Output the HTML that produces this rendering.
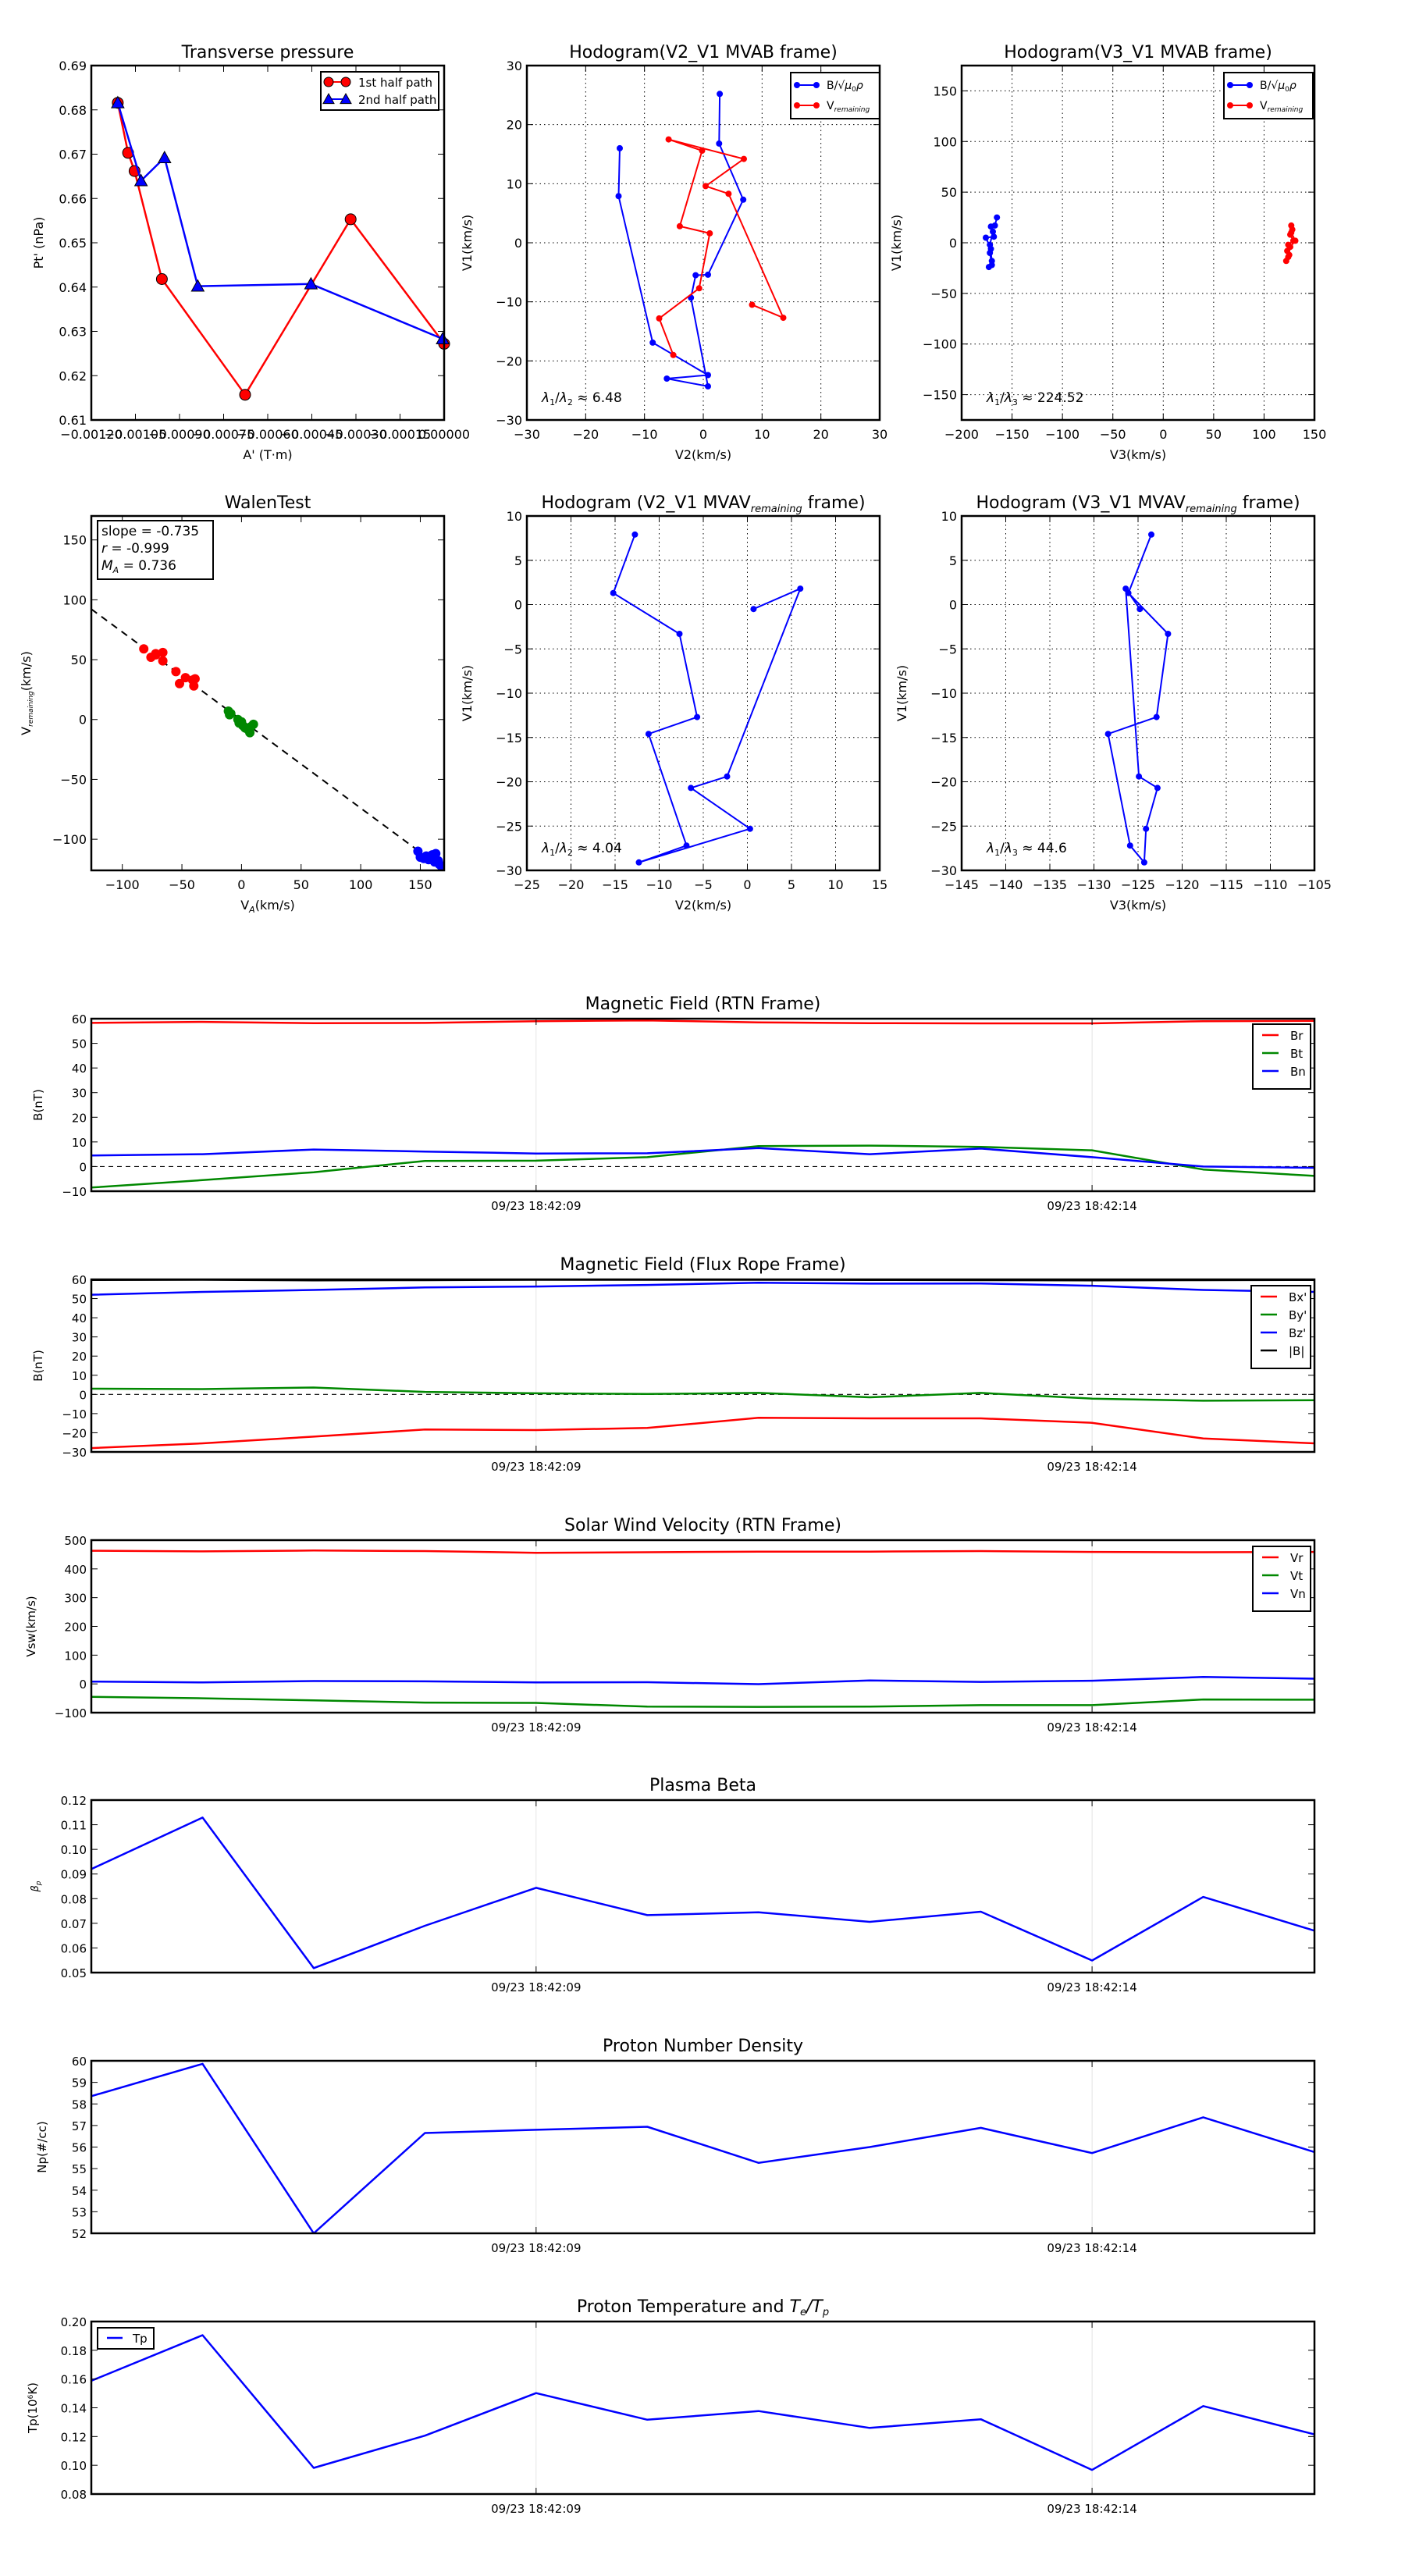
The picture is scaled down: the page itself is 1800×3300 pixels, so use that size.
<!DOCTYPE html>
<html><head><meta charset="utf-8">
<style>
html,body{margin:0;padding:0;background:#fff;}
svg{display:block;font-family:"DejaVu Sans","Liberation Sans",sans-serif;}
</style></head>
<body>
<svg id="s" width="1800" height="3300" viewBox="0 0 1800 3300" xmlns="http://www.w3.org/2000/svg"></svg>
<script>
var out=[];
function A(x0,y0,w,h,xl,yl){return {x0:x0,y0:y0,w:w,h:h,X:function(v){return x0+(v-xl[0])/(xl[1]-xl[0])*w;},Y:function(v){return y0+h-(v-yl[0])/(yl[1]-yl[0])*h;}};}
function T(x,y,s,sz,anc,extra){out.push('<text x="'+x+'" y="'+y+'" font-size="'+sz+'" text-anchor="'+(anc||'middle')+'" '+(extra||'')+'>'+s+'</text>');}
function L(x1,y1,x2,y2,c,w,extra){out.push('<line x1="'+x1+'" y1="'+y1+'" x2="'+x2+'" y2="'+y2+'" stroke="'+c+'" stroke-width="'+w+'" '+(extra||'')+'/>');}
function ticksY(a,vals,fmt,fs){vals.forEach(function(v){var y=a.Y(v);L(a.x0,y,a.x0+8,y,'#000',1);L(a.x0+a.w-8,y,a.x0+a.w,y,'#000',1);T(a.x0-6,y+6,fmt(v),fs||16,'end');});}
function ticksX(a,vals,fmt,fs,lab){vals.forEach(function(v,i){var x=a.X(v);L(x,a.y0,x,a.y0+8,'#000',1);L(x,a.y0+a.h-8,x,a.y0+a.h,'#000',1);T(x,a.y0+a.h+24,lab?lab[i]:fmt(v),fs||16,'middle');});}
function grid(a,xv,yv){xv.forEach(function(v){var x=a.X(v);L(x,a.y0,x,a.y0+a.h,'#000',1,'stroke-dasharray="1.5,4"');});yv.forEach(function(v){var y=a.Y(v);L(a.x0,y,a.x0+a.w,y,'#000',1,'stroke-dasharray="1.5,4"');});}
function poly(a,p,c,w){out.push('<polyline fill="none" stroke="'+c+'" stroke-width="'+w+'" stroke-linejoin="round" points="'+p.map(function(q){return a.X(q[0]).toFixed(1)+','+a.Y(q[1]).toFixed(1);}).join(' ')+'"/>');}
function dots(a,p,c,r,stroke){p.forEach(function(q){out.push('<circle cx="'+a.X(q[0]).toFixed(1)+'" cy="'+a.Y(q[1]).toFixed(1)+'" r="'+r+'" fill="'+c+'" '+(stroke?'stroke="#000" stroke-width="1"':'')+'/>');});}
function tris(a,p,c,r){p.forEach(function(q){var x=a.X(q[0]),y=a.Y(q[1]);out.push('<polygon points="'+x+','+(y-r)+' '+(x-r)+','+(y+r*0.8)+' '+(x+r)+','+(y+r*0.8)+'" fill="'+c+'" stroke="#000" stroke-width="1"/>');});}
function frame(a){out.push('<rect x="'+a.x0+'" y="'+a.y0+'" width="'+a.w+'" height="'+a.h+'" fill="none" stroke="#000" stroke-width="2.5"/>');}
function ylab(a,s,off,fs){var x=a.x0-off,y=a.y0+a.h/2;T(x,y,s,fs||16,'middle','transform="rotate(-90 '+x+' '+y+')"');}
function rng(a,b,s){var r=[];for(var v=a;v<=b+1e-9;v+=s)r.push(Math.round(v*1e6)/1e6);return r;}
function clip(a,id){out.push('<clipPath id="'+id+'"><rect x="'+a.x0+'" y="'+a.y0+'" width="'+a.w+'" height="'+a.h+'"/></clipPath>');}

var c1=117,c2=675,c3=1232,W=452,r1=84,r2=661,H=454;

/* Transverse pressure */
var a=A(c1,r1,W,H,[-0.0012,0],[0.61,0.69]);
T(c1+W/2,74,'Transverse pressure',22);
var red=[[-0.00111,0.6816],[-0.001075,0.6703],[-0.001053,0.6662],[-0.00096,0.6418],[-0.000677,0.6157],[-0.000318,0.6553],[0,0.6272]];
var blu=[[-0.00111,0.6816],[-0.001031,0.664],[-0.000951,0.6692],[-0.000838,0.6402],[-0.000453,0.6407],[-0.000005,0.6283]];
poly(a,red,'#f00',2.5);dots(a,red,'#f00',7,1);poly(a,blu,'#00f',2.5);tris(a,blu,'#00f',8);
ticksY(a,rng(0.61,0.69,0.01),function(v){return v.toFixed(2)});
ticksX(a,rng(-0.0012,0,0.00015),function(v){return v==0?'0.00000':'\u2212'+Math.abs(v).toFixed(5)});
T(c1+W/2,a.y0+H+50,"A' (T\u00b7m)",16);ylab(a,"Pt' (nPa)",62);
out.push('<rect x="411" y="92" width="151" height="49" fill="#fff" stroke="#000" stroke-width="2"/>');
var g0=A(0,0,1,1,[0,1],[1,0]);
L(421,105,443,105,'#f00',2);dots(g0,[[421,105],[443,105]],'#f00',6,1);T(459,111,'1st half path',15,'start');
L(421,127,443,127,'#00f',2);tris(g0,[[421,127],[443,127]],'#00f',7);T(459,133,'2nd half path',15,'start');
frame(a);

/* Hodogram 1 */
a=A(c2,r1,W,H,[-30,30],[-30,30]);
T(c2+W/2,74,'Hodogram(V2_V1 MVAB frame)',22);
grid(a,rng(-20,20,10),rng(-20,20,10));
var hb=[[-14.2,16],[-14.4,7.9],[-8.6,-16.9],[0.8,-22.4],[-6.2,-23],[0.8,-24.3],[-2.1,-9.3],[-1.3,-5.5],[0.8,-5.4],[6.8,7.3],[2.7,16.8],[2.8,25.2]];
var hr=[[-5.1,-19],[-7.5,-12.8],[-0.7,-7.7],[1.1,1.6],[-4,2.8],[-0.2,15.6],[-5.9,17.5],[6.9,14.2],[0.4,9.6],[4.3,8.3],[13.6,-12.7],[8.3,-10.5]];
poly(a,hb,'#00f',2);dots(a,hb,'#00f',4);poly(a,hr,'#f00',2);dots(a,hr,'#f00',4);
ticksY(a,rng(-30,30,10),function(v){return v<0?'\u2212'+(-v):''+v});
ticksX(a,rng(-30,30,10),function(v){return v<0?'\u2212'+(-v):''+v});
T(c2+W/2,a.y0+H+50,'V2(km/s)',16);ylab(a,'V1(km/s)',71);
T(c2+19,515,'<tspan font-style="italic">λ</tspan><tspan font-size="11" dy="4">1</tspan><tspan dy="-4">/</tspan><tspan font-style="italic">λ</tspan><tspan font-size="11" dy="4">2</tspan><tspan dy="-4"> ≈ 6.48</tspan>',17,'start');
function hleg(x){out.push('<rect x="'+x+'" y="93" width="114" height="59" fill="#fff" stroke="#000" stroke-width="2"/>');
L(x+8,109,x+33,109,'#00f',2);dots(g0,[[x+8,109],[x+33,109]],'#00f',4);T(x+46,114,'B/√<tspan font-style="italic">μ</tspan><tspan font-size="9" dy="3">0</tspan><tspan dy="-3" font-style="italic">ρ</tspan>',14,'start');
L(x+8,135,x+33,135,'#f00',2);dots(g0,[[x+8,135],[x+33,135]],'#f00',4);T(x+46,140,'V<tspan font-size="9" dy="3" font-style="italic">remaining</tspan>',14,'start');}
hleg(1013);frame(a);

/* Hodogram 2 */
a=A(c3,r1,W,H,[-200,150],[-175,175]);
T(c3+W/2,74,'Hodogram(V3_V1 MVAB frame)',22);
grid(a,rng(-150,100,50),rng(-150,150,50));
var gb=[[-165,25],[-167,17],[-171,16],[-168,6],[-176,5],[-171,-6],[-172,-10],[-170,-22],[-173,-24],[-170,-18],[-172,-2],[-169,11]];
var gr=[[127,17],[128,13],[126,8],[129,2],[124,-2],[123,-8],[125,-12],[122,-18],[124,-14],[126,-4],[131,2],[127,10]];
poly(a,gb,'#00f',2);dots(a,gb,'#00f',4);poly(a,gr,'#f00',2);dots(a,gr,'#f00',4);
ticksY(a,rng(-150,150,50),function(v){return v<0?'\u2212'+(-v):''+v});
ticksX(a,rng(-200,150,50),function(v){return v<0?'\u2212'+(-v):''+v});
T(c3+W/2,a.y0+H+50,'V3(km/s)',16);ylab(a,'V1(km/s)',78);
T(c3+32,515,'<tspan font-style="italic">λ</tspan><tspan font-size="11" dy="4">1</tspan><tspan dy="-4">/</tspan><tspan font-style="italic">λ</tspan><tspan font-size="11" dy="4">3</tspan><tspan dy="-4"> ≈ 224.52</tspan>',17,'start');
hleg(1568);frame(a);

/* Walen */
a=A(c1,r2,W,H,[-126,170],[-126,170]);
T(c1+W/2,651,'WalenTest',22);
L(a.X(-126),a.Y(92.2),a.X(170),a.Y(-125.5),'#000',2,'stroke-dasharray="9,7"');
var wr=[[-82,59],[-76,52],[-72,54],[-66,56],[-66,49],[-55,40],[-52,30],[-47,35],[-41,33],[-40,28],[-39,34],[-72,55]];
var wg=[[-11,7],[-10,4],[-9,5],[-3,0],[-2,-3],[0,-2],[1,-5],[3,-7],[5,-8],[7,-11],[8,-6],[10,-4]];
var wb=[[148,-110],[150,-115],[153,-116],[157,-117],[160,-113],[162,-119],[163,-112],[165,-118],[166,-121],[168,-123],[170,-125],[155,-114]];
clip(a,'cw');out.push('<g clip-path="url(#cw)">');dots(a,wr,'#f00',6);dots(a,wg,'#080',6);dots(a,wb,'#00f',6);out.push('</g>');
ticksY(a,rng(-100,150,50),function(v){return v<0?'\u2212'+(-v):''+v});
ticksX(a,rng(-100,150,50),function(v){return v<0?'\u2212'+(-v):''+v});
T(c1+W/2,a.y0+H+50,'V<tspan font-size="11" dy="4" font-style="italic">A</tspan><tspan dy="-4">(km/s)</tspan>',16);
ylab(a,'V<tspan font-size="9" dy="3" font-style="italic">remaining</tspan><tspan dy="-3">(km/s)</tspan>',78);
out.push('<rect x="125" y="667" width="148" height="75" fill="#fff" stroke="#000" stroke-width="2"/>');
T(130,686,'slope = -0.735',17,'start');T(130,708,'<tspan font-style="italic">r</tspan> = -0.999',17,'start');
T(130,730,'<tspan font-style="italic">M</tspan><tspan font-size="11" dy="4" font-style="italic">A</tspan><tspan dy="-4"> = 0.736</tspan>',17,'start');
frame(a);

/* Hodogram 3 */
var v1=[7.9,1.3,-3.3,-12.7,-14.6,-27.2,-29.1,-25.3,-20.7,-19.4,1.8,-0.5];
var v2=[-12.75,-15.2,-7.7,-5.7,-11.2,-6.9,-12.3,0.3,-6.4,-2.3,6.0,0.7];
var v3=[-123.5,-126.1,-121.6,-122.9,-128.4,-125.9,-124.3,-124.1,-122.8,-124.9,-126.4,-124.8];
a=A(c2,r2,W,H,[-25,15],[-30,10]);
T(c2+W/2,651,'Hodogram (V2_V1 MVAV<tspan font-size="13" dy="5" font-style="italic">remaining</tspan><tspan dy="-5"> frame)</tspan>',22);
grid(a,rng(-20,10,5),rng(-25,5,5));
var p=v1.map(function(y,i){return [v2[i],y]});poly(a,p,'#00f',2);dots(a,p,'#00f',4);
ticksY(a,rng(-30,10,5),function(v){return v<0?'\u2212'+(-v):''+v});
ticksX(a,rng(-25,15,5),function(v){return v<0?'\u2212'+(-v):''+v});
T(c2+W/2,a.y0+H+50,'V2(km/s)',16);ylab(a,'V1(km/s)',71);
T(c2+19,1092,'<tspan font-style="italic">λ</tspan><tspan font-size="11" dy="4">1</tspan><tspan dy="-4">/</tspan><tspan font-style="italic">λ</tspan><tspan font-size="11" dy="4">2</tspan><tspan dy="-4"> ≈ 4.04</tspan>',17,'start');
frame(a);

/* Hodogram 4 */
a=A(c3,r2,W,H,[-145,-105],[-30,10]);
T(c3+W/2,651,'Hodogram (V3_V1 MVAV<tspan font-size="13" dy="5" font-style="italic">remaining</tspan><tspan dy="-5"> frame)</tspan>',22);
grid(a,rng(-140,-110,5),rng(-25,5,5));
p=v1.map(function(y,i){return [v3[i],y]});poly(a,p,'#00f',2);dots(a,p,'#00f',4);
ticksY(a,rng(-30,10,5),function(v){return v<0?'\u2212'+(-v):''+v});
ticksX(a,rng(-145,-105,5),function(v){return v<0?'\u2212'+(-v):''+v});
T(c3+W/2,a.y0+H+50,'V3(km/s)',16);ylab(a,'V1(km/s)',71);
T(c3+32,1092,'<tspan font-style="italic">λ</tspan><tspan font-size="11" dy="4">1</tspan><tspan dy="-4">/</tspan><tspan font-style="italic">λ</tspan><tspan font-size="11" dy="4">3</tspan><tspan dy="-4"> ≈ 44.6</tspan>',17,'start');
frame(a);

/* time series */
var BX=117,BW=1567,BH=221;
function tp(top,title,yl,yt,fmt,series,ylabel,zero,legend){
 var a=A(BX,top,BW,BH,[0,11],yl);
 T(BX+BW/2,top-12,title,22);
 L(a.X(4),top,a.X(4),top+BH,'#ddd',0.8);L(a.X(9),top,a.X(9),top+BH,'#ddd',0.8);
 if(zero)L(BX,a.Y(0),BX+BW,a.Y(0),'#000',1.2,'stroke-dasharray="6,5"');
 clip(a,'c'+top);out.push('<g clip-path="url(#c'+top+')">');
 series.forEach(function(s){poly(a,s.d.map(function(v,i){return [i,v]}),s.c,s.w||2.5);});
 out.push('</g>');
 ticksY(a,yt,fmt,15);
 ticksX(a,[4,9],null,15,['09/23 18:42:09','09/23 18:42:14']);
 ylabel();
 if(legend)legend();
 frame(a);return a;}
function nf(v){return v<0?'\u2212'+(-v):''+v}
function leg(x,y,w,items,dy){out.push('<rect x="'+x+'" y="'+y+'" width="'+w+'" height="'+(items.length*dy+14)+'" fill="#fff" stroke="#000" stroke-width="2"/>');
 items.forEach(function(it,i){var yy=y+14+i*dy;L(x+12,yy,x+33,yy,it[1],2.5);T(x+48,yy+6,it[0],15,'start');});}
var LX=BX+BW-79;
var P1=1305;
tp(P1,'Magnetic Field (RTN Frame)',[-10,60],rng(-10,60,10),nf,[
 {c:'#f00',d:[58.3,58.7,58.2,58.3,59,59.3,58.5,58.2,58.1,58.1,59,59.1]},
 {c:'#080',d:[-8.5,-5.5,-2.3,2.3,2.4,3.8,8.3,8.5,8,6.6,-1.2,-3.8]},
 {c:'#00f',d:[4.5,5,6.9,6.1,5.3,5.4,7.5,5,7.3,3.8,0,-0.5]}],
 function(){var x=BX-63,y=P1+BH/2;T(x,y,'B(nT)',15,'middle','transform="rotate(-90 '+x+' '+y+')"');},true,
 function(){leg(LX,P1+7,74,[['Br','#f00'],['Bt','#080'],['Bn','#00f']],23);});
var P2=1639;
tp(P2,'Magnetic Field (Flux Rope Frame)',[-30,60],rng(-30,60,10),nf,[
 {c:'#000',d:[59.8,59.9,59.6,59.7,59.9,59.9,59.9,59.8,59.7,59.6,59.7,59.8],w:3},
 {c:'#f00',d:[-28,-25.5,-22,-18.3,-18.6,-17.5,-12.2,-12.5,-12.5,-14.8,-23,-25.5]},
 {c:'#080',d:[3,2.8,3.6,1.3,0.6,0.2,0.8,-1.5,0.8,-2.2,-3.3,-3]},
 {c:'#00f',d:[52,53.5,54.5,55.8,56.3,57.1,58.3,57.8,57.9,56.7,54.5,53.5]}],
 function(){var x=BX-63,y=P2+BH/2;T(x,y,'B(nT)',15,'middle','transform="rotate(-90 '+x+' '+y+')"');},true,
 function(){leg(LX-2,P2+8,76,[["Bx'",'#f00'],["By'",'#080'],["Bz'",'#00f'],['|B|','#000']],23);});
var P3=1973;
tp(P3,'Solar Wind Velocity (RTN Frame)',[-100,500],rng(-100,500,100),nf,[
 {c:'#f00',d:[463,461,464,462,456,458,460,460,462,459,458,459]},
 {c:'#080',d:[-45,-50,-57,-65,-66,-79,-80,-79,-74,-74,-54,-55]},
 {c:'#00f',d:[8,5,10,9,5,6,-1,12,7,11,24,18]}],
 function(){var x=BX-72,y=P3+BH/2;T(x,y,'Vsw(km/s)',15,'middle','transform="rotate(-90 '+x+' '+y+')"');},false,
 function(){leg(LX,P3+8,74,[['Vr','#f00'],['Vt','#080'],['Vn','#00f']],23);});
var P4=2306;
tp(P4,'Plasma Beta',[0.05,0.12],rng(0.05,0.12,0.01),function(v){return v.toFixed(2)},[
 {c:'#00f',d:[0.092,0.1129,0.0518,0.069,0.0844,0.0733,0.0745,0.0706,0.0747,0.0549,0.0807,0.067]}],
 function(){var x=BX-68,y=P4+BH/2;T(x,y,'<tspan font-style="italic">β</tspan><tspan font-size="9" dy="3" font-style="italic">p</tspan>',13,'middle','transform="rotate(-90 '+x+' '+y+')"');},false,null);
var P5=2640;
tp(P5,'Proton Number Density',[52,60],rng(52,60,1),function(v){return ''+v},[
 {c:'#00f',d:[58.36,59.86,52.0,56.65,56.8,56.94,55.27,56.0,56.89,55.72,57.38,55.77]}],
 function(){var x=BX-58,y=P5+BH/2;T(x,y,'Np(#/cc)',15,'middle','transform="rotate(-90 '+x+' '+y+')"');},false,null);
var P6=2974;
tp(P6,'Proton Temperature and <tspan font-style="italic">T</tspan><tspan font-size="13" dy="4" font-style="italic">e</tspan><tspan dy="-4" font-style="italic">/T</tspan><tspan font-size="13" dy="4" font-style="italic">p</tspan>',[0.08,0.20],rng(0.08,0.20,0.02),function(v){return v.toFixed(2)},[
 {c:'#00f',d:[0.1588,0.1905,0.0982,0.1206,0.1502,0.1317,0.1377,0.126,0.132,0.0968,0.1412,0.1215]}],
 function(){var x=BX-70,y=P6+BH/2;T(x,y,'Tp(10<tspan font-size="9" dy="-5">6</tspan><tspan dy="5">K)</tspan>',15,'middle','transform="rotate(-90 '+x+' '+y+')"');},false,
 function(){out.push('<rect x="125" y="2982" width="72" height="27" fill="#fff" stroke="#000" stroke-width="2"/>');L(137,2995,157,2995,'#00f',2.5);T(170,3001,'Tp',15,'start');});
document.getElementById('s').innerHTML=out.join('');
</script>
</body></html>
